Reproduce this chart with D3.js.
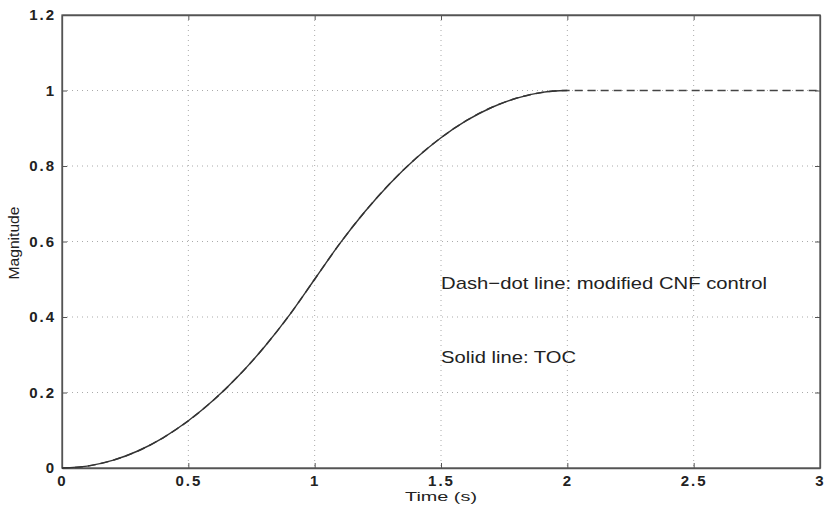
<!DOCTYPE html>
<html>
<head>
<meta charset="utf-8">
<script src="https://cdn.jsdelivr.net/npm/d3@7"></script>
<style>
body { margin: 0; background: #fff; }
svg { display: block; }
.tick text { font-family: "Liberation Sans", Arial, sans-serif; }
</style>
</head>
<body>
<div id="chart"></div>
<script>

// time samples (s) and the two responses
var timeTOC = [0, 0.1, 0.2, 0.3, 0.4, 0.5, 0.6, 0.7, 0.8, 0.9, 1.0,
               1.1, 1.2, 1.3, 1.4, 1.5, 1.6, 1.7, 1.8, 1.9, 2.0];
var magTOC  = [0, 0.005, 0.02, 0.045, 0.08, 0.125, 0.18, 0.245, 0.32, 0.405, 0.5,
               0.595, 0.68, 0.755, 0.82, 0.875, 0.92, 0.955, 0.98, 0.995, 1.0];

var timeCNF = [0, 0.1, 0.2, 0.3, 0.4, 0.5, 0.6, 0.7, 0.8, 0.9, 1.0,
               1.1, 1.2, 1.3, 1.4, 1.5, 1.6, 1.7, 1.8, 1.9, 2.0, 2.5, 3.0];
var magCNF  = [0, 0.005, 0.02, 0.045, 0.08, 0.125, 0.18, 0.245, 0.32, 0.405, 0.5,
               0.595, 0.68, 0.755, 0.82, 0.875, 0.92, 0.955, 0.98, 0.995, 1.0, 1.0, 1.0];

var xTicks = [0, 0.5, 1, 1.5, 2, 2.5, 3];
var yTicks = [0, 0.2, 0.4, 0.6, 0.8, 1, 1.2];

var notes = ["Dash\u2212dot line: modified CNF control", "Solid line: TOC"];

var width = 826, height = 505;
var margin = {top: 15, right: 6, bottom: 37, left: 62};
var w = width - margin.left - margin.right;
var h = height - margin.top - margin.bottom;

var svg = d3.select("#chart").append("svg")
			.attr("width", width)
			.attr("height", height);

var g = svg.append("g").attr("transform", "translate(" + margin.left + "," + margin.top + ")");

var x = d3.scaleLinear().domain([0, 3]).range([0, w]);
var y = d3.scaleLinear().domain([0, 1.2]).range([h, 0]);

// dotted grid
g.append("g").selectAll("line")
	.data(xTicks.slice(1, -1))
	.enter().append("line")
	.attr("x1", function(d) {return x(d);})
	.attr("x2", function(d) {return x(d);})
	.attr("y1", 0).attr("y2", h)
	.attr("stroke", "#aaa").attr("stroke-width", 1)
	.attr("stroke-dasharray", "1,4");

g.append("g").selectAll("line")
	.data(yTicks.slice(1, -1))
	.enter().append("line")
	.attr("y1", function(d) {return y(d);})
	.attr("y2", function(d) {return y(d);})
	.attr("x1", 0).attr("x2", w)
	.attr("stroke", "#aaa").attr("stroke-width", 1)
	.attr("stroke-dasharray", "1,4");

// axes, inward ticks on all four sides
var fmt = function(d) {return d3.format("")(+d.toFixed(1));};

var xAxis = g.append("g").attr("transform", "translate(0," + h + ")")
	.call(d3.axisBottom(x).tickValues(xTicks).tickFormat(fmt).tickSizeInner(-5).tickSizeOuter(0).tickPadding(7));
var yAxis = g.append("g")
	.call(d3.axisLeft(y).tickValues(yTicks).tickFormat(fmt).tickSizeInner(-5).tickSizeOuter(0).tickPadding(6));
g.append("g")
	.call(d3.axisTop(x).tickValues(xTicks).tickFormat("").tickSizeInner(-5).tickSizeOuter(0));
g.append("g").attr("transform", "translate(" + w + ",0)")
	.call(d3.axisRight(y).tickValues(yTicks).tickFormat("").tickSizeInner(-5).tickSizeOuter(0));

g.selectAll(".domain").attr("stroke", "#555").attr("stroke-width", 1.3);
g.selectAll(".tick line").attr("stroke", "#555");
g.selectAll(".tick text").attr("fill", "#222").attr("font-size", 15)
	.attr("font-weight", "bold").attr("letter-spacing", 2);

// frame
g.append("rect").attr("width", w).attr("height", h)
	.attr("fill", "none").attr("stroke", "#555").attr("stroke-width", 1.3);

// curves
var line = d3.line()
			.x(function(d) {return x(d[0]);})
			.y(function(d) {return y(d[1]);})
			.curve(d3.curveMonotoneX);

g.append("path")
	.datum(d3.zip(timeCNF, magCNF))
	.attr("fill", "none")
	.attr("stroke", "#444")
	.attr("stroke-width", 1.5)
	.attr("stroke-dasharray", "8,5")
	.attr("d", line);

g.append("path")
	.datum(d3.zip(timeTOC, magTOC))
	.attr("fill", "none")
	.attr("stroke", "#333")
	.attr("stroke-width", 1.4)
	.attr("d", line);

// annotations
var noteY = [0.475, 0.278];
var noteLen = [326, 135];
g.selectAll(".note")
	.data(notes)
	.enter().append("text")
	.attr("class", "note")
	.attr("x", x(1.5))
	.attr("y", function(d, i) {return y(noteY[i]);})
	.attr("font-family", "Liberation Sans, Arial, sans-serif")
	.attr("font-size", 17)
	.attr("fill", "#222")
	.attr("textLength", function(d, i) {return noteLen[i];})
	.attr("lengthAdjust", "spacingAndGlyphs")
	.text(function(d) {return d;});

// axis labels
svg.append("text")
	.attr("x", margin.left + w / 2)
	.attr("y", 501)
	.attr("text-anchor", "middle")
	.attr("font-family", "Liberation Sans, Arial, sans-serif")
	.attr("font-size", 13)
	.attr("fill", "#222")
	.attr("textLength", 72)
	.attr("lengthAdjust", "spacingAndGlyphs")
	.text("Time (s)");

svg.append("text")
	.attr("transform", "translate(19,243) rotate(-90)")
	.attr("text-anchor", "middle")
	.attr("font-family", "Liberation Sans Narrow, Liberation Sans, Arial, sans-serif")
	.attr("font-size", 15)
	.attr("fill", "#222")
	.attr("textLength", 73)
	.attr("lengthAdjust", "spacingAndGlyphs")
	.text("Magnitude");

</script>
</body>
</html>
